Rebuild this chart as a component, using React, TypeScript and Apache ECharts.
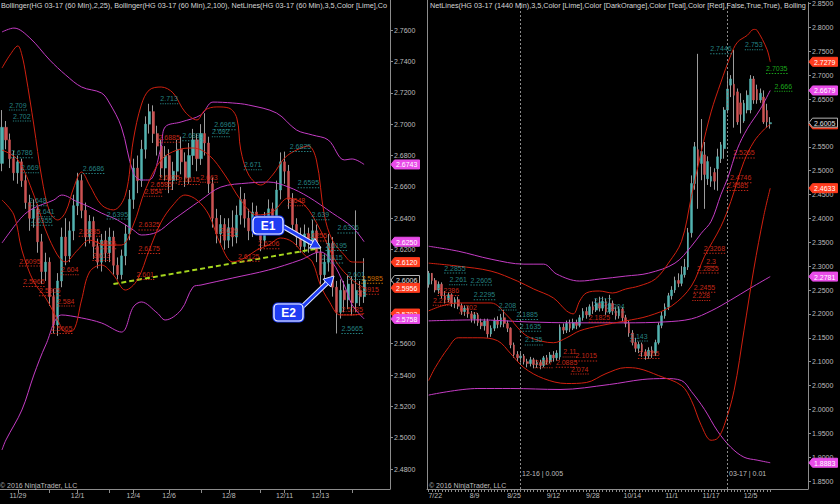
import React, { useEffect, useRef } from 'react';
import * as echarts from 'echarts';

// ---------- LEFT PANEL (HG 03-17, 60 Min) ----------
// candles: [open, close, low, high]
const leftCandles: number[][] = [
  [2.675, 2.698, 2.670, 2.709], [2.698, 2.690, 2.684, 2.702], [2.690, 2.678, 2.672, 2.694], [2.678, 2.669, 2.664, 2.683],
  [2.669, 2.676, 2.662, 2.680], [2.676, 2.664, 2.660, 2.678], [2.664, 2.650, 2.646, 2.668], [2.650, 2.640, 2.632, 2.655],
  [2.640, 2.646, 2.634, 2.652], [2.646, 2.625, 2.618, 2.649], [2.625, 2.606, 2.598, 2.630], [2.606, 2.612, 2.600, 2.618],
  [2.612, 2.590, 2.584, 2.615], [2.590, 2.572, 2.5665, 2.595], [2.572, 2.600, 2.565, 2.605], [2.600, 2.628, 2.596, 2.634],
  [2.628, 2.616, 2.610, 2.640], [2.616, 2.632, 2.612, 2.638], [2.632, 2.648, 2.626, 2.655], [2.648, 2.664, 2.642, 2.669],
  [2.664, 2.645, 2.640, 2.668], [2.645, 2.628, 2.622, 2.650], [2.628, 2.638, 2.624, 2.642], [2.638, 2.622, 2.614, 2.641],
  [2.622, 2.612, 2.608, 2.627], [2.612, 2.626, 2.606, 2.630], [2.626, 2.618, 2.612, 2.632], [2.618, 2.628, 2.612, 2.634],
  [2.628, 2.610, 2.604, 2.632], [2.610, 2.604, 2.601, 2.615], [2.604, 2.616, 2.601, 2.620], [2.616, 2.630, 2.610, 2.636],
  [2.630, 2.652, 2.626, 2.658], [2.652, 2.672, 2.646, 2.678], [2.672, 2.664, 2.656, 2.680], [2.664, 2.684, 2.660, 2.690],
  [2.684, 2.700, 2.678, 2.705], [2.700, 2.708, 2.694, 2.713], [2.708, 2.694, 2.688, 2.712], [2.694, 2.686, 2.680, 2.699],
  [2.686, 2.672, 2.666, 2.690], [2.672, 2.680, 2.664, 2.686], [2.680, 2.664, 2.656, 2.684], [2.664, 2.670, 2.658, 2.676],
  [2.670, 2.684, 2.664, 2.690], [2.684, 2.676, 2.668, 2.692], [2.676, 2.666, 2.660, 2.682], [2.666, 2.680, 2.662, 2.688],
  [2.680, 2.690, 2.674, 2.697], [2.690, 2.678, 2.670, 2.694], [2.678, 2.694, 2.674, 2.700], [2.694, 2.688, 2.680, 2.707],
  [2.688, 2.662, 2.656, 2.692], [2.662, 2.640, 2.634, 2.666], [2.640, 2.630, 2.624, 2.646], [2.630, 2.636, 2.624, 2.642],
  [2.636, 2.626, 2.620, 2.640], [2.626, 2.634, 2.621, 2.640], [2.634, 2.628, 2.622, 2.645], [2.628, 2.642, 2.624, 2.648],
  [2.642, 2.652, 2.636, 2.660], [2.652, 2.640, 2.634, 2.656], [2.640, 2.632, 2.626, 2.646], [2.632, 2.644, 2.628, 2.650],
  [2.644, 2.636, 2.630, 2.648], [2.636, 2.626, 2.619, 2.640], [2.626, 2.638, 2.622, 2.644], [2.638, 2.646, 2.632, 2.652],
  [2.646, 2.640, 2.634, 2.650], [2.640, 2.658, 2.636, 2.664], [2.658, 2.676, 2.652, 2.682], [2.676, 2.670, 2.662, 2.6825],
  [2.670, 2.652, 2.646, 2.674], [2.652, 2.636, 2.630, 2.656], [2.636, 2.628, 2.622, 2.640], [2.628, 2.622, 2.618, 2.634],
  [2.622, 2.630, 2.618, 2.636], [2.630, 2.624, 2.618, 2.634], [2.624, 2.632, 2.620, 2.639], [2.632, 2.618, 2.612, 2.636],
  [2.618, 2.604, 2.598, 2.622], [2.604, 2.612, 2.596, 2.617], [2.612, 2.624, 2.606, 2.630], [2.624, 2.596, 2.590, 2.628],
  [2.596, 2.580, 2.5665, 2.600], [2.580, 2.594, 2.576, 2.601], [2.594, 2.588, 2.580, 2.600], [2.588, 2.598, 2.582, 2.604],
  [2.598, 2.586, 2.578, 2.603], [2.586, 2.594, 2.580, 2.645], [2.594, 2.590, 2.584, 2.600], [2.590, 2.6006, 2.586, 2.6145],
];
const leftCategoryCount = 98;
const leftDateLabels: [number, string][] = [
  [4, '11/29'], [19, '12/1'], [33, '12/4'], [42, '12/6'], [57, '12/8'], [71, '12/11'], [80, '12/13'],
];
const leftTickIdx = [4, 12, 19, 27, 33, 42, 50, 57, 65, 71, 80, 88];
const leftYTicks = [2.48, 2.5, 2.52, 2.54, 2.56, 2.58, 2.6, 2.62, 2.64, 2.66, 2.68, 2.7, 2.72, 2.74, 2.76];

// Bollinger(2,25) red lines, Bollinger(2,100) magenta lines: [barIndex, price]
const leftBB25Upper: number[][] = [
  [0, 2.7358], [2, 2.7441], [4, 2.7499], [5, 2.7441], [6, 2.7314], [8, 2.6995], [10, 2.6657], [12, 2.644], [14, 2.6389],
  [16, 2.644], [18, 2.6593], [20, 2.6695], [22, 2.6612], [25, 2.6485], [28, 2.6453], [31, 2.6548], [33, 2.6899], [35, 2.7122],
  [37, 2.7218], [40, 2.7237], [43, 2.7199], [46, 2.7078], [49, 2.7027], [51, 2.709], [54, 2.711], [57, 2.7103], [59, 2.7039],
  [60, 2.6835], [62, 2.6676], [65, 2.6612], [68, 2.6676], [71, 2.6784], [74, 2.6835], [77, 2.6861], [79, 2.6772], [81, 2.6421],
  [83, 2.6261], [86, 2.6166], [88, 2.6121], [91, 2.612],
];
const leftBB25Mid: number[][] = [
  [0, 2.6835], [4, 2.6772], [8, 2.6548], [12, 2.6261], [16, 2.6121], [19, 2.6197], [22, 2.6261], [26, 2.6229], [30, 2.6229],
  [33, 2.6357], [36, 2.658], [40, 2.6772], [44, 2.6835], [48, 2.6848], [52, 2.6803], [56, 2.6676], [60, 2.6516], [64, 2.6421],
  [68, 2.644], [72, 2.6529], [76, 2.6485], [80, 2.6325], [84, 2.6121], [88, 2.6006], [91, 2.5956],
];
const leftBB25Lower: number[][] = [
  [0, 2.6516], [3, 2.6421], [5, 2.6197], [8, 2.5993], [11, 2.5891], [14, 2.5751], [16, 2.5675], [18, 2.5687], [20, 2.5879],
  [22, 2.6057], [25, 2.6102], [28, 2.6038], [31, 2.5942], [34, 2.6006], [37, 2.6197], [40, 2.6376], [43, 2.6485], [46, 2.6548],
  [49, 2.6516], [52, 2.6421], [55, 2.6229], [58, 2.6121], [61, 2.6147], [64, 2.6197], [67, 2.6229], [70, 2.6274], [73, 2.6249],
  [76, 2.6166], [78, 2.6121], [80, 2.5974], [82, 2.5879], [85, 2.5783], [88, 2.5783], [91, 2.5792],
];
const leftBB100Upper: number[][] = [
  [0, 2.7588], [3, 2.7613], [7, 2.755], [12, 2.7409], [16, 2.7314], [20, 2.7237], [25, 2.7199], [27, 2.7135], [30, 2.6982],
  [33, 2.6689], [35, 2.6644], [37, 2.6644], [40, 2.6854], [41, 2.6982], [45, 2.7014], [50, 2.7059], [53, 2.7141], [58, 2.7135],
  [62, 2.7122], [69, 2.7071], [74, 2.6963], [78, 2.6931], [82, 2.6899], [86, 2.6772], [88, 2.6778], [91, 2.6743],
];
const leftBB100Mid: number[][] = [
  [0, 2.6242], [5, 2.6408], [8, 2.6465], [13, 2.6516], [15, 2.6548], [19, 2.6504], [22, 2.6472], [25, 2.6433], [29, 2.6389],
  [33, 2.6325], [35, 2.6293], [39, 2.6312], [43, 2.6389], [50, 2.6516], [55, 2.6599], [62, 2.6625], [67, 2.6631], [72, 2.6599],
  [77, 2.6536], [83, 2.6433], [88, 2.6344], [91, 2.625],
];
const leftBB100Lower: number[][] = [
  [0, 2.4922], [1, 2.4986], [5, 2.5177], [8, 2.54], [11, 2.5592], [15, 2.5783], [20, 2.5764], [25, 2.5732], [30, 2.5674],
  [33, 2.5834], [35, 2.5866], [39, 2.5796], [41, 2.5751], [45, 2.5815], [48, 2.5961], [50, 2.5974], [58, 2.6019], [67, 2.607],
  [75, 2.6134], [80, 2.6185], [83, 2.6121], [86, 2.5974], [88, 2.5847], [91, 2.5758],
];
const leftTrendLine: number[][] = [[28, 2.598], [80, 2.621]];

// NetLines labels: [barIndex, price]
const leftTealLabels: number[][] = [
  [4, 2.709], [5, 2.702], [5, 2.6786], [7, 2.669], [9, 2.648], [11, 2.641], [10, 2.6355], [23, 2.6686], [29, 2.6395],
  [42, 2.713], [48, 2.6895], [56, 2.6965], [55, 2.692], [63, 2.671], [75, 2.6825], [77, 2.6595], [80, 2.639], [87, 2.6306],
  [84, 2.6195], [83, 2.6115], [89, 2.601], [88, 2.5665],
];
const leftRedLabels: number[][] = [
  [42, 2.6885], [42, 2.6625], [40, 2.6585], [38, 2.654], [52, 2.663], [47, 2.6615], [37, 2.6325], [37, 2.6175], [36, 2.601],
  [26, 2.6205], [25, 2.613], [22, 2.6285], [7, 2.6095], [8, 2.5965], [17, 2.604], [12, 2.5905], [16, 2.584], [15, 2.5665],
  [79, 2.6255], [57, 2.629], [67, 2.6206], [62, 2.6125], [74, 2.648], [92, 2.5915], [88, 2.5785],
];
const leftOrangeLabels: number[][] = [[93, 2.5985]];

// price markers on the axis: [price, kind]
const leftTags: [number, string][] = [
  [2.6743, 'mag'], [2.625, 'mag'], [2.612, 'red'], [2.6006, 'price'], [2.5956, 'red'], [2.5792, 'red'], [2.5758, 'mag'],
];

// ---------- RIGHT PANEL (HG 03-17, 1440 Min) ----------
const rightCandles: number[][] = [
  [2.262, 2.285, 2.255, 2.29], [2.285, 2.270, 2.262, 2.2855], [2.270, 2.250, 2.245, 2.275], [2.250, 2.262, 2.242, 2.268],
  [2.262, 2.238, 2.232, 2.266], [2.238, 2.230, 2.222, 2.248], [2.230, 2.240, 2.225, 2.245], [2.240, 2.222, 2.215, 2.243],
  [2.222, 2.230, 2.212, 2.235], [2.230, 2.216, 2.210, 2.236], [2.216, 2.205, 2.198, 2.222], [2.205, 2.212, 2.196, 2.218],
  [2.212, 2.200, 2.192, 2.216], [2.200, 2.190, 2.182, 2.206], [2.190, 2.198, 2.180, 2.204], [2.198, 2.182, 2.175, 2.202],
  [2.182, 2.175, 2.168, 2.190], [2.175, 2.185, 2.165, 2.190], [2.185, 2.158, 2.150, 2.190], [2.158, 2.170, 2.152, 2.176],
  [2.170, 2.186, 2.164, 2.192], [2.186, 2.178, 2.170, 2.195], [2.178, 2.192, 2.172, 2.200], [2.192, 2.180, 2.172, 2.208],
  [2.180, 2.170, 2.162, 2.186], [2.170, 2.135, 2.128, 2.172], [2.135, 2.115, 2.108, 2.140], [2.115, 2.108, 2.100, 2.122],
  [2.108, 2.112, 2.098, 2.118], [2.112, 2.100, 2.094, 2.116], [2.100, 2.096, 2.088, 2.106], [2.096, 2.104, 2.090, 2.110],
  [2.104, 2.094, 2.086, 2.108], [2.094, 2.098, 2.087, 2.104], [2.098, 2.092, 2.084, 2.104], [2.092, 2.108, 2.088, 2.112],
  [2.108, 2.100, 2.094, 2.114], [2.100, 2.114, 2.096, 2.120], [2.114, 2.108, 2.100, 2.122], [2.108, 2.118, 2.102, 2.124],
  [2.110, 2.172, 2.104, 2.178], [2.172, 2.166, 2.158, 2.180], [2.166, 2.180, 2.160, 2.186], [2.180, 2.170, 2.162, 2.188],
  [2.170, 2.182, 2.166, 2.190], [2.182, 2.176, 2.168, 2.188], [2.176, 2.192, 2.172, 2.198], [2.192, 2.205, 2.186, 2.212],
  [2.205, 2.198, 2.190, 2.214], [2.198, 2.215, 2.194, 2.220], [2.215, 2.208, 2.200, 2.226], [2.208, 2.222, 2.204, 2.232],
  [2.222, 2.212, 2.205, 2.236], [2.212, 2.226, 2.206, 2.236], [2.226, 2.204, 2.198, 2.232], [2.204, 2.222, 2.200, 2.240],
  [2.222, 2.206, 2.198, 2.228], [2.206, 2.196, 2.188, 2.214], [2.196, 2.210, 2.190, 2.216], [2.210, 2.192, 2.184, 2.214],
  [2.192, 2.180, 2.172, 2.198], [2.180, 2.160, 2.152, 2.186], [2.160, 2.140, 2.134, 2.166], [2.140, 2.128, 2.120, 2.150],
  [2.128, 2.136, 2.118, 2.142], [2.136, 2.120, 2.110, 2.140], [2.120, 2.112, 2.104, 2.126], [2.112, 2.124, 2.106, 2.130],
  [2.124, 2.118, 2.108, 2.132], [2.118, 2.140, 2.112, 2.146], [2.140, 2.176, 2.136, 2.182], [2.176, 2.196, 2.170, 2.204],
  [2.196, 2.214, 2.190, 2.222], [2.214, 2.238, 2.208, 2.244], [2.238, 2.250, 2.230, 2.258], [2.250, 2.270, 2.244, 2.278],
  [2.270, 2.264, 2.256, 2.285], [2.264, 2.282, 2.258, 2.300], [2.282, 2.298, 2.276, 2.315], [2.298, 2.370, 2.292, 2.380],
  [2.370, 2.473, 2.360, 2.490], [2.473, 2.550, 2.460, 2.560], [2.544, 2.515, 2.420, 2.7446], [2.515, 2.540, 2.480, 2.608],
  [2.533, 2.492, 2.420, 2.560], [2.483, 2.519, 2.470, 2.530], [2.478, 2.488, 2.466, 2.508], [2.496, 2.478, 2.460, 2.505],
  [2.504, 2.529, 2.458, 2.546], [2.525, 2.554, 2.516, 2.560], [2.546, 2.627, 2.525, 2.633], [2.627, 2.671, 2.620, 2.706],
  [2.679, 2.692, 2.654, 2.700], [2.681, 2.658, 2.590, 2.753], [2.665, 2.602, 2.596, 2.672], [2.642, 2.618, 2.578, 2.662],
  [2.604, 2.641, 2.600, 2.648], [2.627, 2.658, 2.620, 2.668], [2.627, 2.692, 2.620, 2.700], [2.692, 2.648, 2.640, 2.698],
  [2.670, 2.648, 2.640, 2.680], [2.648, 2.662, 2.642, 2.672], [2.654, 2.602, 2.598, 2.668], [2.626, 2.602, 2.590, 2.640],
  [2.598, 2.6005, 2.588, 2.612],
];
const rightCategoryCount = 116;
const rightLastBar = 104;
const rightDateLabels: [number, string][] = [
  [2, '7/22'], [14, '8/9'], [26, '8/25'], [38, '9/12'], [50, '9/28'], [62, '10/14'], [74, '11/1'], [86, '11/17'], [98, '12/5'],
];
const rightYTicks = [1.85, 1.9, 1.95, 2, 2.05, 2.1, 2.15, 2.2, 2.25, 2.3, 2.35, 2.4, 2.45, 2.5, 2.55, 2.6, 2.65, 2.7, 2.75, 2.8, 2.85];
const rightRollovers: [number, string][] = [[28, '12-16 | 0.005'], [91, '03-17 | 0.01']];

const rightBB25Upper: number[][] = [
  [0, 2.3063], [9, 2.3], [19, 2.2896], [27, 2.2688], [32, 2.2521], [38, 2.2333], [42, 2.2063], [44, 2.2], [46, 2.2271],
  [48, 2.2438], [52, 2.2479], [56, 2.2438], [60, 2.2521], [64, 2.2583], [69, 2.2729], [73, 2.3063], [77, 2.3521], [80, 2.4458],
  [83, 2.5396], [86, 2.6229], [89, 2.6854], [92, 2.7417], [94, 2.7688], [97, 2.7833], [99, 2.7958], [100, 2.7938], [103, 2.7542],
  [104, 2.7279],
];
const rightBB25Mid: number[][] = [
  [0, 2.2063], [4, 2.2167], [9, 2.2229], [19, 2.2229], [24, 2.1958], [28, 2.1646], [31, 2.15], [38, 2.1396], [42, 2.15],
  [46, 2.1646], [52, 2.175], [60, 2.1854], [67, 2.1958], [74, 2.2167], [80, 2.2583], [84, 2.3208], [89, 2.3833], [92, 2.4354],
  [96, 2.5188], [99, 2.5604], [102, 2.5854], [104, 2.597],
];
const rightBB25Lower: number[][] = [
  [0, 2.0604], [2, 2.0875], [6, 2.1292], [9, 2.15], [15, 2.15], [21, 2.1438], [25, 2.1167], [29, 2.0875], [35, 2.0646],
  [42, 2.0542], [48, 2.0563], [54, 2.075], [60, 2.0875], [64, 2.0854], [70, 2.0708], [77, 2.05], [80, 2.0188], [83, 1.9667],
  [86, 1.9354], [88, 1.9396], [90, 1.9667], [93, 2.0396], [96, 2.1646], [99, 2.2938], [102, 2.4042], [104, 2.4633],
];
const rightBB100Upper: number[][] = [
  [0, 2.3417], [9, 2.3313], [19, 2.3146], [29, 2.3042], [35, 2.3042], [39, 2.2833], [46, 2.2688], [52, 2.2729], [60, 2.2792],
  [67, 2.2854], [75, 2.3063], [80, 2.3417], [83, 2.3688], [86, 2.3938], [89, 2.45], [91, 2.4833], [94, 2.5458], [97, 2.5875],
  [101, 2.6292], [104, 2.6679],
];
const rightBB100Mid: number[][] = [
  [0, 2.1854], [15, 2.1875], [30, 2.1833], [45, 2.1813], [60, 2.1813], [72, 2.1833], [80, 2.1896], [86, 2.2063], [92, 2.2292],
  [98, 2.2542], [104, 2.2781],
];
const rightBB100Lower: number[][] = [
  [0, 2.03], [15, 2.0438], [25, 2.0438], [40, 2.0417], [55, 2.0521], [65, 2.0625], [72, 2.0646], [77, 2.0604], [80, 2.0375],
  [84, 2.0], [88, 1.9542], [92, 1.9208], [96, 1.9], [100, 1.8938], [104, 1.8883],
];

const rightTealLabels: number[][] = [
  [8, 2.2855], [9, 2.261], [16, 2.2605], [17, 2.2295], [24, 2.208], [30, 2.1885], [31, 2.1635], [32, 2.135], [53, 2.217],
  [57, 2.204], [64, 2.143], [89, 2.7446], [99, 2.753],
];
const rightRedLabels: number[][] = [
  [6, 2.2386], [4, 2.218], [12, 2.202], [52, 2.1825], [43, 2.11], [48, 2.1015], [42, 2.0885], [35, 2.087], [46, 2.074],
  [67, 2.1065], [87, 2.3268], [86, 2.3], [85, 2.2855], [84, 2.2455], [83, 2.228], [96, 2.5265], [95, 2.4746], [94, 2.4585],
];
const rightGreenLabels: number[][] = [[106, 2.7035], [108, 2.666]];

const rightTags: [number, string][] = [
  [2.7279, 'red'], [2.6679, 'mag'], [2.597, 'red'], [2.6005, 'price'], [2.4633, 'red'], [2.2781, 'mag'], [1.8883, 'mag'],
];

const leftHeader =
  'Bollinger(HG 03-17 (60 Min),2,25), Bollinger(HG 03-17 (60 Min),2,100), NetLines(HG 03-17 (60 Min),3,5,Color [Lime],Color [DarkOrange],Color [Teal],Color [Red],False,True,True)';
const rightHeader =
  'NetLines(HG 03-17 (1440 Min),3,5,Color [Lime],Color [DarkOrange],Color [Teal],Color [Red],False,True,True), Bollinger(HG 03-17 (1440 Min),2,25)';

// ---------- styling ----------
const FONT = '"Liberation Sans", Arial, sans-serif';
const AXIS = '#8c8c8c';
const TXT = '#bdbdbd';
const UP = '#52b3b0';
const DOWN = '#cc5252';
const WICK = '#9c9c9c';
const BB_RED = '#d0200f';
const BB_MAG = '#c43cc4';
const TEAL_TXT = '#2fa3a3';
const RED_TXT = '#f0321e';
const TAG_BG: Record<string, string> = { mag: '#e84ce8', red: '#ff3c1e', price: '#000000' };
const DOTS =
  'path://M0 0h1v1H0zM2 0h1v1H2zM4 0h1v1H4zM6 0h1v1H6zM8 0h1v1H8zM10 0h1v1H10zM12 0h1v1H12zM14 0h1v1H14z';

const LEFT_AXIS_X = 390;
const RIGHT_AXIS_X = 808;
const TOP_Z = 100;

function buildOption() {
  const leftCats = Array.from({ length: leftCategoryCount }, (_, i) => String(i));
  const rightCats = Array.from({ length: rightCategoryCount }, (_, i) => String(i));
  const leftLabelMap = new Map(leftDateLabels);
  const rightLabelMap = new Map(rightDateLabels);

  const bodies = (d: number[][]) => d.map((c) => [c[0], c[1], Math.min(c[0], c[1]), Math.max(c[0], c[1])]);

  const wickSeries = (d: number[][], xi: number, marks?: any) => ({
    type: 'candlestick',
    xAxisIndex: xi,
    yAxisIndex: xi,
    data: d,
    barWidth: 1,
    silent: true,
    z: 2,
    itemStyle: { color: WICK, color0: WICK, borderColor: WICK, borderColor0: WICK, borderWidth: 1 },
    ...(marks ? { markLine: marks } : {}),
  });

  const bodySeries = (d: number[][], xi: number, w: number) => ({
    type: 'candlestick',
    xAxisIndex: xi,
    yAxisIndex: xi,
    data: bodies(d),
    barWidth: w,
    silent: true,
    z: 3,
    itemStyle: { color: UP, color0: DOWN, borderColor: UP, borderColor0: DOWN, borderWidth: 0.5 },
  });

  const band = (d: number[][], color: string, xi: number) => ({
    type: 'line',
    xAxisIndex: xi,
    yAxisIndex: xi,
    data: d,
    symbol: 'none',
    showSymbol: false,
    smooth: 0.35,
    silent: true,
    z: 4,
    lineStyle: { color, width: 1 },
  });

  const labels = (d: number[][], color: string, xi: number) => ({
    type: 'scatter',
    xAxisIndex: xi,
    yAxisIndex: xi,
    data: d,
    symbol: DOTS,
    symbolSize: (v: number[]) => [String(v[1]).length * 3.6, 1],
    itemStyle: { color },
    silent: true,
    z: 6,
    label: {
      show: true,
      position: 'top',
      distance: 1,
      formatter: (p: any) => String(p.value[1]),
      color,
      fontSize: 7,
      fontFamily: FONT,
    },
    labelLayout: { hideOverlap: false },
  });

  const yAxisBase = (gi: number, min: number, max: number, ticks: number[]) => ({
    type: 'value',
    gridIndex: gi,
    position: 'right',
    min,
    max,
    scale: true,
    z: 0,
    splitLine: { show: false },
    axisLine: { show: true, lineStyle: { color: AXIS, width: 1 } },
    axisTick: { show: true, length: 3, lineStyle: { color: AXIS }, customValues: ticks },
    axisLabel: {
      show: true,
      customValues: ticks,
      formatter: (v: number) => v.toFixed(4),
      color: TXT,
      fontSize: 7,
      fontFamily: FONT,
      margin: 4,
    },
  });

  const rolloverMarks = {
    silent: true,
    symbol: ['none', 'none'],
    animation: false,
    data: rightRollovers.map(([i]) => ({
      xAxis: i,
      lineStyle: { color: '#8a8a8a', type: [2, 2], width: 1 },
      label: { show: false },
    })),
  };

  return {
    animation: false,
    backgroundColor: '#000000',
    grid: [
      { left: 0, top: 0, width: LEFT_AXIS_X, height: 489, containLabel: false },
      { left: 427, top: 0, width: RIGHT_AXIS_X - 427, height: 489, containLabel: false },
    ],
    xAxis: [
      {
        type: 'category',
        gridIndex: 0,
        data: leftCats,
        boundaryGap: true,
        axisLine: { show: true, lineStyle: { color: AXIS } },
        axisTick: {
          show: true,
          alignWithLabel: true,
          interval: (i: number) => leftTickIdx.includes(i),
          length: 4,
          lineStyle: { color: AXIS },
        },
        axisLabel: {
          interval: (i: number) => leftLabelMap.has(i),
          formatter: (_v: string, i: number) => leftLabelMap.get(i) ?? '',
          color: TXT,
          fontSize: 7,
          fontFamily: FONT,
          margin: 3,
        },
        splitLine: { show: false },
      },
      {
        type: 'category',
        gridIndex: 1,
        data: rightCats,
        boundaryGap: true,
        axisLine: { show: true, lineStyle: { color: AXIS } },
        axisTick: {
          show: true,
          alignWithLabel: true,
          interval: (i: number) => i <= rightLastBar,
          length: 3,
          lineStyle: { color: AXIS },
        },
        axisLabel: {
          interval: (i: number) => rightLabelMap.has(i),
          formatter: (_v: string, i: number) => rightLabelMap.get(i) ?? '',
          color: TXT,
          fontSize: 7,
          fontFamily: FONT,
          margin: 3,
        },
        splitLine: { show: false },
      },
    ],
    yAxis: [
      yAxisBase(0, 2.4673, 2.7792, leftYTicks),
      yAxisBase(1, 1.83333, 2.85208, rightYTicks),
    ],
    series: [
      wickSeries(leftCandles, 0),
      bodySeries(leftCandles, 0, 2.6),
      band(leftBB100Upper, BB_MAG, 0),
      band(leftBB100Mid, BB_MAG, 0),
      band(leftBB100Lower, BB_MAG, 0),
      band(leftBB25Upper, BB_RED, 0),
      band(leftBB25Mid, BB_RED, 0),
      band(leftBB25Lower, BB_RED, 0),
      {
        type: 'line',
        xAxisIndex: 0,
        yAxisIndex: 0,
        data: leftTrendLine,
        symbol: 'none',
        silent: true,
        z: 5,
        lineStyle: { color: '#a6d61e', width: 2, type: [5, 3] },
      },
      labels(leftTealLabels, TEAL_TXT, 0),
      labels(leftRedLabels, RED_TXT, 0),
      labels(leftOrangeLabels, '#ff8c00', 0),

      wickSeries(rightCandles, 1, rolloverMarks),
      bodySeries(rightCandles, 1, 2.2),
      band(rightBB100Upper, BB_MAG, 1),
      band(rightBB100Mid, BB_MAG, 1),
      band(rightBB100Lower, BB_MAG, 1),
      band(rightBB25Upper, BB_RED, 1),
      band(rightBB25Mid, BB_RED, 1),
      band(rightBB25Lower, BB_RED, 1),
      labels(rightTealLabels, TEAL_TXT, 1),
      labels(rightRedLabels, RED_TXT, 1),
      labels(rightGreenLabels, '#22d022', 1),
    ],
  };
}

function callout(label: string, x: number, y: number, w: number, h: number) {
  return {
    type: 'group',
    children: [
      {
        type: 'rect',
        z: TOP_Z,
        shape: { x: x - 1.5, y: y - 1.5, width: w + 3, height: h + 3, r: 5 },
        style: { fill: '#1f3cf2' },
      },
      {
        type: 'rect',
        z: TOP_Z + 1,
        shape: { x, y, width: w, height: h, r: 4 },
        style: { fill: '#1f3cf2', stroke: '#ffffff', lineWidth: 1.2 },
      },
      {
        type: 'text',
        z: TOP_Z + 2,
        x: x + w / 2,
        y: y + h / 2 + 0.5,
        style: {
          text: label,
          fill: '#ffffff',
          font: `bold 12px ${FONT}`,
          align: 'center',
          verticalAlign: 'middle',
        },
      },
    ],
  };
}

function arrow(x1: number, y1: number, x2: number, y2: number, head: number[][]) {
  return {
    type: 'group',
    children: [
      { type: 'line', z: TOP_Z, shape: { x1, y1, x2, y2 }, style: { stroke: '#dfe6ff', lineWidth: 5, lineCap: 'round' } },
      { type: 'line', z: TOP_Z + 1, shape: { x1, y1, x2, y2 }, style: { stroke: '#1f3cf2', lineWidth: 3, lineCap: 'round' } },
      { type: 'polygon', z: TOP_Z + 2, shape: { points: head }, style: { fill: '#1f3cf2', stroke: '#dfe6ff', lineWidth: 1 } },
    ],
  };
}

function txt(text: string, x: number, y: number, width?: number, color = TXT, size = 7) {
  return {
    type: 'text',
    x,
    y,
    z: 50,
    style: {
      text,
      fill: color,
      font: `${size}px ${FONT}`,
      verticalAlign: 'middle',
      ...(width ? { width, overflow: 'truncate', ellipsis: '' } : {}),
    },
  };
}

// axis price marker: arrow-shaped box pointing at the axis
function priceTag(axisX: number, y: number, value: number, kind: string, order: number) {
  const bg = TAG_BG[kind];
  const isPrice = kind === 'price';
  const h = 4.5;
  const z = TOP_Z + 10 + order * 2;
  return {
    type: 'group',
    children: [
      {
        type: 'polygon',
        z,
        shape: {
          points: [
            [axisX + 1, y],
            [axisX + 4.5, y - h],
            [axisX + 29.5, y - h],
            [axisX + 29.5, y + h],
            [axisX + 4.5, y + h],
          ],
        },
        style: { fill: bg, stroke: isPrice ? '#b4b4b4' : bg, lineWidth: 1 },
      },
      {
        type: 'text',
        z: z + 1,
        x: axisX + 6,
        y: y + 0.5,
        style: {
          text: value.toFixed(4),
          fill: isPrice ? '#e0e0e0' : '#ffffff',
          font: `7px ${FONT}`,
          verticalAlign: 'middle',
          align: 'left',
        },
      },
    ],
  };
}

function buildGraphics(chart: echarts.ECharts) {
  const tagsFor = (list: [number, string][], axisIndex: number, axisX: number) =>
    list.map(([v, k], n) => {
      const y = chart.convertToPixel({ yAxisIndex: axisIndex }, v) as number;
      return priceTag(axisX, y, v, k, n);
    });
  return [
    txt(leftHeader, 1, 5, 388, '#d6d6d6', 7.25),
    txt(rightHeader, 430, 5, 377, '#d6d6d6', 7.25),
    txt('\u00a9 2016 NinjaTrader, LLC', 0, 485),
    txt('\u00a9 2016 NinjaTrader, LLC', 429, 485),
    txt(rightRollovers[0][1], 522, 473),
    txt(rightRollovers[1][1], 729, 473),
    { type: 'line', z: 50, shape: { x1: 427.5, y1: 0, x2: 427.5, y2: 489 }, style: { stroke: AXIS, lineWidth: 1 } },
    arrow(284, 227, 313, 243.8, [[321, 248], [309.6, 248.2], [314.8, 238.4]]),
    arrow(302, 307, 327.5, 282.5, [[334, 276], [330.8, 287], [323, 279.2]]),
    callout('E1', 253, 217, 30, 17),
    callout('E2', 274, 304, 29, 17),
    ...tagsFor(leftTags, 0, LEFT_AXIS_X),
    ...tagsFor(rightTags, 1, RIGHT_AXIS_X),
  ];
}

export default function App() {
  const ref = useRef<HTMLDivElement>(null);
  useEffect(() => {
    if (!ref.current) return;
    const chart = echarts.init(ref.current, undefined, { renderer: 'svg', width: 840, height: 504 });
    chart.setOption(buildOption() as any);
    chart.setOption({ graphic: buildGraphics(chart) } as any);
    return () => chart.dispose();
  }, []);
  return (
    <div
      ref={ref}
      style={{ position: 'fixed', left: 0, top: 0, width: 840, height: 504, background: '#000' }}
    />
  );
}
